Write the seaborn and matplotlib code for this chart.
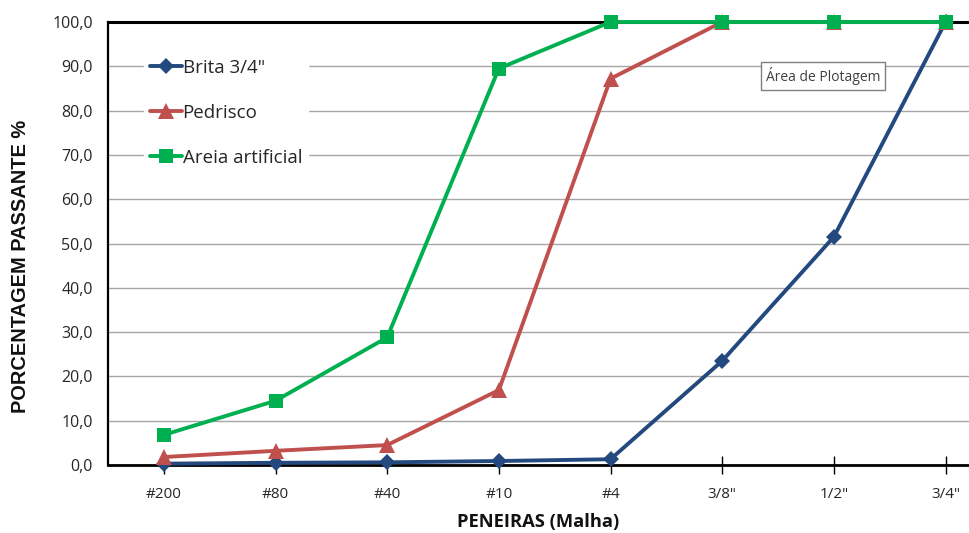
import matplotlib
matplotlib.use("Agg")
import matplotlib.pyplot as plt
import seaborn as sns
import pandas as pd
from matplotlib.ticker import FuncFormatter, MultipleLocator

peneiras = ['#200', '#80', '#40', '#10', '#4', '3/8"', '1/2"', '3/4"']
brita = [0.3, 0.5, 0.6, 0.9, 1.3, 23.5, 51.5, 100.0]
pedrisco = [1.8, 3.2, 4.5, 16.9, 87.2, 100.0, 100.0, 100.0]
areia = [6.8, 14.5, 28.8, 89.5, 100.0, 100.0, 100.0, 100.0]
series_names = ['Brita 3/4"', 'Pedrisco', 'Areia artificial']

rows = []
for name, vals in zip(series_names, [brita, pedrisco, areia]):
    for i, (p, v) in enumerate(zip(peneiras, vals)):
        rows.append({'pos': i, 'peneira': p, 'valor': v, 'serie': name})
df = pd.DataFrame(rows)

sns.set_theme(style="white")
plt.rcParams['font.family'] = ['Open Sans', 'DejaVu Sans']

fig = plt.figure(figsize=(9.69, 5.33), dpi=100)
ax = fig.add_axes([108/969, 1-465/533, 1-108/969, (465-22)/533])

palette = {'Brita 3/4"': '#24497F', 'Pedrisco': '#C0504D', 'Areia artificial': '#00B050'}
markers = {'Brita 3/4"': 'D', 'Pedrisco': '^', 'Areia artificial': 's'}
sizes_m = {'Brita 3/4"': 8, 'Pedrisco': 11, 'Areia artificial': 10}

for name in series_names:
    sub = df[df.serie == name]
    sns.lineplot(data=sub, x='pos', y='valor', color=palette[name], marker=markers[name],
                 markersize=sizes_m[name], markeredgewidth=0, linewidth=2.8,
                 label=name, ax=ax, sort=False, zorder=3, clip_on=False)

ax.set_xlim(-0.5, 7.21)
ax.set_ylim(0, 100)
ax.yaxis.set_major_locator(MultipleLocator(10))
ax.yaxis.set_major_formatter(FuncFormatter(lambda v, p: f"{v:.1f}".replace('.', ',')))
ax.set_xticks(range(len(peneiras)))
ax.set_xticklabels(peneiras)
ax.grid(axis='y', color='#A6A6A6', linewidth=1.0, zorder=0)
ax.set_axisbelow(True)

for s in ['left', 'bottom', 'top']:
    ax.spines[s].set_color('black')
    ax.spines[s].set_visible(True)
ax.spines['left'].set_linewidth(1.6)
ax.spines['bottom'].set_linewidth(2.0)
ax.spines['top'].set_linewidth(2.2)
ax.spines['right'].set_visible(False)

ax.tick_params(axis='y', length=0, labelsize=11.5, labelcolor='#262626', pad=11)
ax.tick_params(axis='x', direction='inout', length=13, width=1, color='black', labelsize=11,
               labelcolor='#262626', pad=9, bottom=True)

ax.set_xlabel('PENEIRAS (Malha)', fontsize=13.2, fontweight='bold', labelpad=8, color='#111111')
ax.set_ylabel('PORCENTAGEM PASSANTE %', fontsize=14.4, fontweight='bold', color='#111111',
              family=['Liberation Sans', 'DejaVu Sans'])
ax.yaxis.set_label_coords(-78/861, 199/443)

leg = ax.legend(loc='upper left', bbox_to_anchor=(0.042, 0.93), frameon=True, fontsize=13.5,
                handlelength=1.7, handletextpad=0.05, labelspacing=1.45, borderpad=0.3,
                borderaxespad=0)
leg.get_frame().set_edgecolor('white')
leg.get_frame().set_facecolor('white')
leg.get_frame().set_alpha(1.0)
leg.set_zorder(5)

ax.annotate('Área de Plotagem', xy=(0.764, 0.878), xycoords='axes fraction', fontsize=10,
            color='#404040', ha='left', va='center',
            bbox=dict(boxstyle='square,pad=0.35', facecolor='white', edgecolor='#808080', linewidth=1))

fig.savefig('out.png', dpi=100)
